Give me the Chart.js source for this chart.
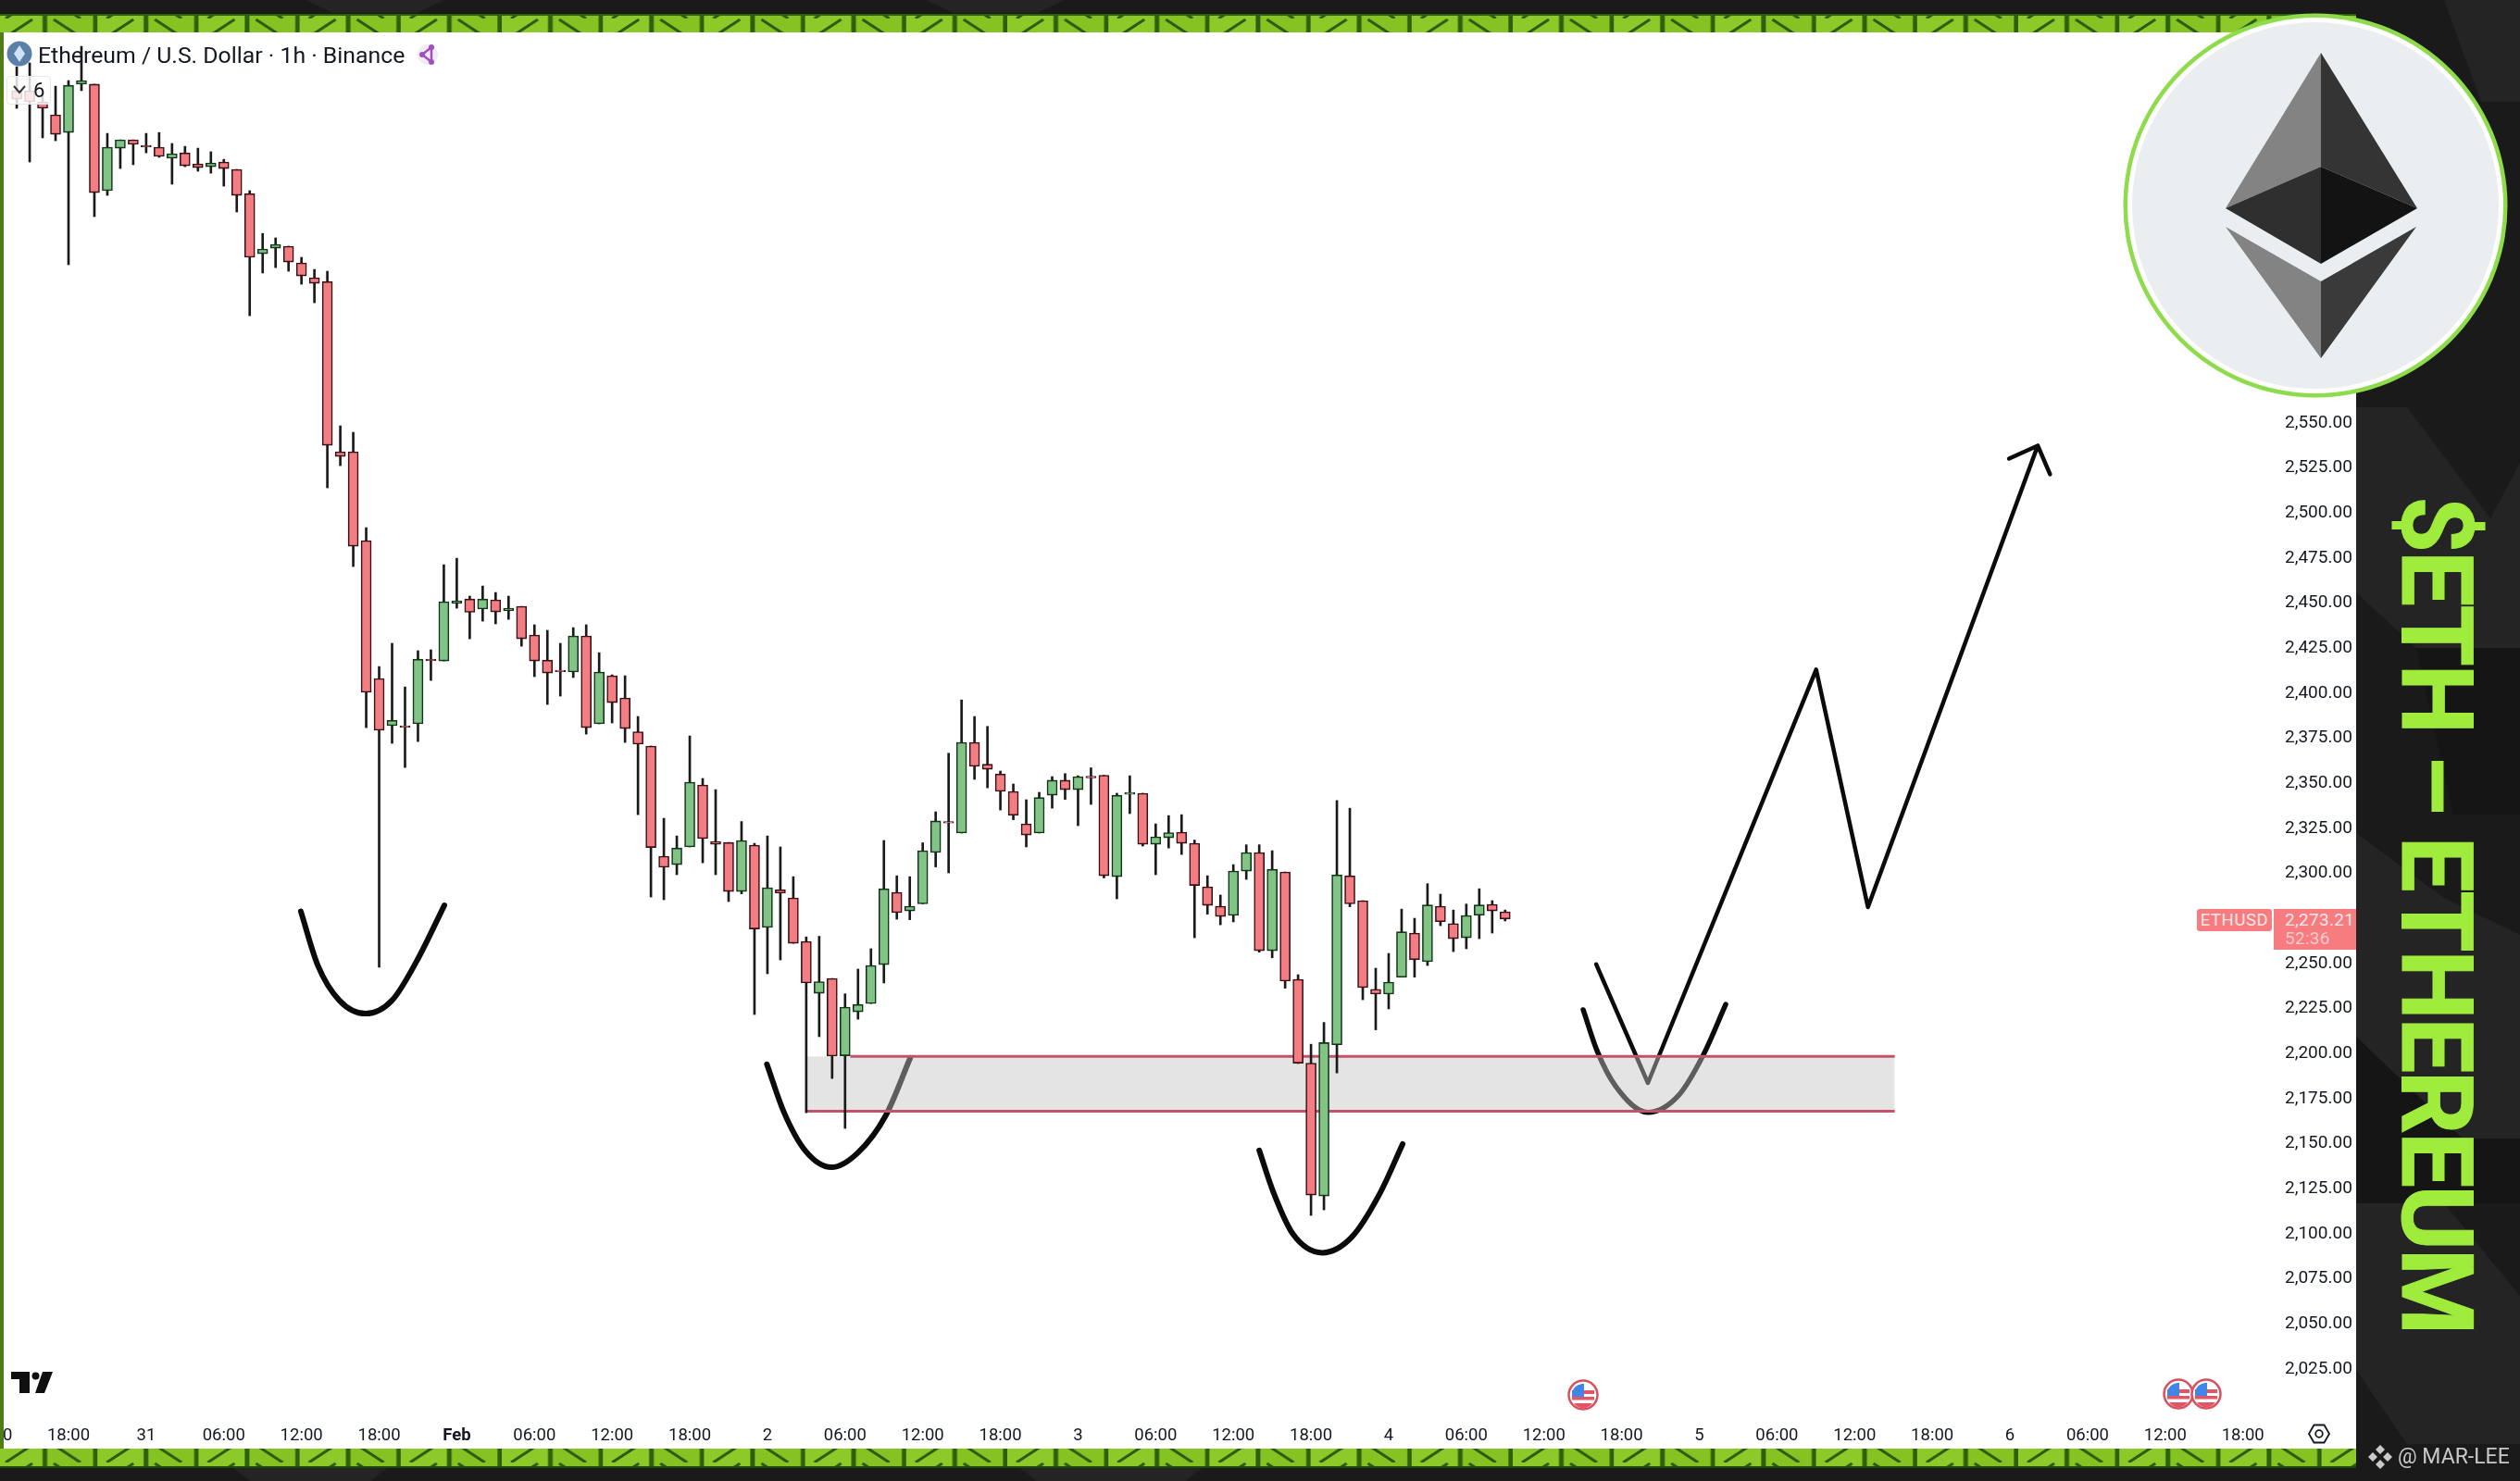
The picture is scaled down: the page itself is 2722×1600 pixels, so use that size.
<!DOCTYPE html>
<html>
<head>
<meta charset="utf-8">
<title>ETHUSD 1h</title>
<script src="https://cdn.jsdelivr.net/npm/chart.js@4/dist/chart.umd.js"></script>
<style>
  html, body { margin: 0; padding: 0; width: 2722px; height: 1600px; overflow: hidden; background: #1a1a1a; }
  body { position: relative; font-family: Roboto, sans-serif; }
  .abs { position: absolute; white-space: nowrap; }
  #bg { position: absolute; left: 0; top: 0; }
  #pane { position: absolute; left: 4px; top: 35px; width: 2541px; height: 1530px; background: #fff; }
  #chartWrap { position: absolute; left: 4px; top: 35px; width: 2541px; height: 1530px; }
  #title { left: 41px; top: 45px; font-size: 24.8px; line-height: 30px; color: #131722; }
  #badge { left: 7px; top: 82px; width: 48px; height: 31px; box-sizing: border-box; border: 1px solid #e6e8ee; border-radius: 4px; background: rgba(255,255,255,.82); }
  #badgeNum { left: 36px; top: 85px; font-size: 22px; line-height: 26px; color: #131722; }
  #symLabel { left: 2373px; top: 982px; width: 81px; height: 24px; background: #f77c80; border-radius: 3px; color: #fde8e8; font-size: 18.5px; line-height: 25px; text-align: center; letter-spacing: .6px; }
  #priceLabel { left: 2456px; top: 982px; width: 89px; height: 44px; background: #f77c80; }
  #priceText { left: 2468px; top: 982px; font-size: 19px; line-height: 23px; color: #fde8e8; letter-spacing: .3px; }
  #priceTimer { left: 2468px; top: 1002px; font-size: 19px; line-height: 23px; color: #fbc9cb; letter-spacing: .3px; }
  #bigText { left: 2570px; top: 536px; writing-mode: vertical-rl; font-family: Roboto, sans-serif; font-weight: 700; font-size: 107px; line-height: 122px; color: #a0ec3d; letter-spacing: -2.5px; -webkit-text-stroke: 1px #a0ec3d; }
  #credit { left: 2590px; top: 1559px; font-size: 23px; line-height: 30px; color: #c9c9c9; }
</style>
</head>
<body>
<svg id="bg" width="2722" height="1600" xmlns="http://www.w3.org/2000/svg">
  <defs>
    <pattern id="strip" x="-4" y="0" width="109.2" height="20" patternUnits="userSpaceOnUse">
      <rect width="109.2" height="20" fill="#84c322"/>
      <rect x="0" width="54.6" height="20" fill="#8bca28"/>
      <rect x="50" width="5" height="20" fill="#2e5f0c"/>
      <rect x="104.6" width="5" height="20" fill="#2e5f0c"/>
      <path d="M10 20 L39 1" stroke="#2b5a10" stroke-width="3" fill="none"/>
      <path d="M62 1 L91 20" stroke="#2b5a10" stroke-width="3" fill="none"/>
    </pattern>
  </defs>
  <rect width="2722" height="1600" fill="#1a1a1a"/>
  <g fill="#242424">
    <polygon points="2545,440 2600,440 2690,560 2722,500 2722,700 2610,700 2545,640"/>
    <polygon points="2545,900 2640,970 2722,1010 2722,1230 2660,1230 2545,1120"/>
    <polygon points="2545,1300 2640,1300 2722,1400 2722,1560 2600,1560 2545,1480"/>
    <polygon points="2640,0 2722,0 2722,110 2680,110"/>
    <polygon points="330,0 480,0 450,14 360,14"/>
    <polygon points="1000,0 1150,0 1120,14 1030,14"/>
    <polygon points="250,1585 420,1585 400,1600 270,1600"/>
    <polygon points="1100,1585 1300,1585 1280,1600 1120,1600"/>
  </g>
  <g fill="#151515">
    <polygon points="2610,700 2722,700 2722,880 2650,880"/>
    <polygon points="2545,1120 2660,1230 2722,1230 2722,1300 2545,1300"/>
  </g>
  <rect x="0" y="15" width="2545" height="20" fill="url(#strip)"/>
  <rect x="0" y="15" width="2545" height="2" fill="#2e5f0c"/>
  <rect x="0" y="1565" width="2545" height="20" fill="url(#strip)"/>
  <rect x="0" y="1584" width="2545" height="2" fill="#22470a"/>
  <rect x="0" y="35" width="4" height="1530" fill="#4f7c14"/>
</svg>

<div id="pane"></div>
<div id="chartWrap"><canvas id="priceChart"></canvas></div>

<svg class="abs" style="left:0;top:0;pointer-events:none" width="2722" height="1600" xmlns="http://www.w3.org/2000/svg">
  <defs>
    <g id="usFlag">
      <circle r="15.5" fill="#fff" stroke="#d9505c" stroke-width="2.5"/>
      <path d="M-12 -5 H12 V-1 H-12 Z M-12 2 H12 V5.5 H-12 Z" fill="#e25563"/>
      <path d="M-10 9 H10 A 12 12 0 0 1 -10 9 Z" fill="#e25563"/>
      <path d="M-12 -2 A 12 12 0 0 1 -1 -12 H1 V2 H-12 Z" fill="#3f86e6"/>
    </g>
  </defs>
  <!-- pair icon -->
  <circle cx="21" cy="58" r="13.5" fill="#5b7fa6"/>
  <path d="M21 49 L27 58 L21 67 L15 58 Z" fill="#cfe3fb"/>
  <!-- share icon -->
  <circle cx="462" cy="59" r="11" fill="#f1ebf4"/>
  <path d="M466 51 L456 59 L466 67 Z" fill="none" stroke="#a24fc0" stroke-width="2.5"/>
  <circle cx="466" cy="51" r="3" fill="#a24fc0"/><circle cx="456" cy="59" r="3" fill="#a24fc0"/><circle cx="466" cy="67" r="3" fill="#a24fc0"/>
  <!-- TV logo -->
  <path d="M12 1482 H32 V1505 H21 V1490 H12 Z M57 1482 H46 L38 1505 H48 Z" fill="#0f0f0f"/>
  <circle cx="38.5" cy="1486.5" r="4" fill="#0f0f0f"/>
  <!-- event flags -->
  <use href="#usFlag" x="1710" y="1507"/>
  <use href="#usFlag" x="2353" y="1506"/>
  <use href="#usFlag" x="2383" y="1506"/>
  <!-- settings -->
  <path d="M2494 1549 L2499.5 1539.5 H2510.5 L2516 1549 L2510.5 1558.5 H2499.5 Z" fill="none" stroke="#131722" stroke-width="1.8"/>
  <circle cx="2505" cy="1549" r="3.8" fill="none" stroke="#131722" stroke-width="1.8"/>
  <!-- binance mark -->
  <g fill="#c9c9c9">
    <path d="M2571 1561 l5 5 -5 5 -5 -5 z M2571 1577 l5 5 -5 5 -5 -5 z M2563 1569 l5 5 -5 5 -5 -5 z M2579 1569 l5 5 -5 5 -5 -5 z"/>
  </g>
  <!-- coin logo -->
  <circle cx="2501" cy="222" r="207.5" fill="#8edb4b"/>
  <circle cx="2501" cy="222" r="203" fill="#fff"/>
  <circle cx="2501" cy="222" r="198" fill="#ebeef1"/>
  <polygon points="2507,57 2404,225 2507,180" fill="#838383"/>
  <polygon points="2507,57 2611,225 2507,180" fill="#343434"/>
  <polygon points="2507,180 2404,225 2507,285" fill="#2f2f2f"/>
  <polygon points="2507,180 2611,225 2507,285" fill="#131313"/>
  <polygon points="2404,245 2507,304 2507,387" fill="#838383"/>
  <polygon points="2610,245 2507,304 2507,387" fill="#3a3a3a"/>
</svg>

<div class="abs" id="badge"></div>
<svg class="abs" style="left:14px;top:92px" width="14" height="10"><path d="M1 1 L7 8 L13 1" fill="none" stroke="#333" stroke-width="2"/></svg>
<div class="abs" id="badgeNum">6</div>
<div class="abs" id="title">Ethereum / U.S. Dollar · 1h · Binance</div>
<div class="abs" id="symLabel">ETHUSD</div>
<div class="abs" id="priceLabel"></div>
<div class="abs" id="priceText">2,273.21</div>
<div class="abs" id="priceTimer">52:36</div>
<div class="abs" id="bigText">$ETH – ETHEREUM</div>
<div class="abs" id="credit">@ MAR-LEE</div>

<script>
// 1h candles, hour 0 = 30 Jan 18:00
const candleHours = [
  -4,-3,-2,-1,0,1,2,3,4,5,
  6,7,8,9,10,11,12,13,14,15,
  16,17,18,19,20,21,22,23,24,25,
  26,27,28,29,30,31,32,33,34,35,
  36,37,38,39,40,41,42,43,44,45,
  46,47,48,49,50,51,52,53,54,55,
  56,57,58,59,60,61,62,63,64,65,
  66,67,68,69,70,71,72,73,74,75,
  76,77,78,79,80,81,82,83,84,85,
  86,87,88,89,90,91,92,93,94,95,
  96,97,98,99,100,101,102,103,104,105,
  106,107,108,109,110,111
];
const candleOpen = [
  2732.9,2732.9,2726.7,2719.5,2709.7,2736.5,2736.5,2677.4,2701,2705.6,
  2702.5,2701.5,2695.4,2698.4,2692.3,2690.7,2693.3,2689.2,2675.8,2642.4,
  2645.5,2646.6,2637.3,2629.1,2627,2532.5,2532.5,2483.2,2406.7,2380.5,
  2380.5,2381.5,2417.4,2416.4,2448.3,2450.8,2445.2,2450.3,2444.2,2446.7,
  2430.8,2416.9,2411.3,2410.3,2430.3,2381.5,2408.2,2395.9,2377.1,2369.2,
  2308,2303.4,2313.2,2347.6,2316.2,2315.7,2288.5,2314.2,2268.5,2289.5,
  2284.9,2260.8,2232,2240.2,2197.3,2221.7,2226.3,2247.9,2288,2277.7,
  2281.6,2310.1,2327.3,2320.9,2371.2,2359.1,2353.7,2344,2326,2320.9,
  2341.9,2350.2,2345,2352.4,2353,2296.7,2342.4,2343,2314.7,2318.3,
  2321.4,2315.2,2291.1,2280.3,2275.2,2299.8,2310.1,2255.6,2299.3,2239.7,
  2193.2,2119.5,2203.4,2297.2,2283.4,2234.2,2231.5,2240.9,2265.4,2249.5,
  2280.3,2270.7,2262.8,2275.3,2281.3,2277.2
];
const candleHigh = [
  2746.2,2748.3,2731.8,2735.4,2738.5,2757.5,2736.5,2709.2,2705.6,2705.6,
  2709.2,2709.7,2703.6,2702,2701,2699,2694.8,2689.2,2677.4,2653.7,
  2651.2,2646.6,2640.4,2633.7,2632.7,2546.9,2543.3,2490.4,2413.3,2426.2,
  2402,2422.1,2422.6,2469.8,2473.4,2452.4,2458,2454.4,2452.4,2446.7,
  2436.5,2433.4,2426.2,2434.9,2436.5,2421,2408.7,2408.2,2385.6,2369.2,
  2329.1,2319.3,2374.8,2351.2,2345,2315.7,2327.3,2315.2,2319.3,2313.2,
  2296.7,2263.3,2263.6,2240.2,2231.7,2245.4,2256.7,2316.8,2297.2,2296.7,
  2315.5,2332.7,2365.2,2394.8,2385.6,2380.1,2355.3,2348.1,2339.4,2343.5,
  2352.2,2353.9,2352.7,2357.1,2353,2343,2352.7,2343,2326,2330.6,
  2331.1,2317,2297.2,2286.5,2303.4,2314.4,2314.4,2311.1,2299.3,2242.3,
  2203.7,2215.8,2339,2334.7,2283.4,2245.9,2254.1,2278.7,2273.6,2292.8,
  2287,2278.2,2281.5,2290,2283.4,2278.2
];
const candleLow = [
  2723.1,2693.3,2706.7,2705.1,2636.3,2732.9,2663,2674.8,2689.7,2691.8,
  2698.4,2695.9,2681,2690.7,2688.2,2687.1,2679.9,2665.6,2608,2631.7,
  2634.7,2632.7,2625.5,2615.2,2512.5,2524.8,2468.8,2379.4,2246.4,2370.7,
  2357.3,2371.7,2405.6,2416.4,2445.7,2428.7,2438.5,2437,2439.5,2424.6,
  2407.7,2392.3,2396.9,2407.2,2375.8,2381.5,2382,2371.2,2331.1,2285.4,
  2283.9,2297.8,2313.2,2304.4,2297.8,2282.9,2287.2,2220.2,2242.8,2250.5,
  2259.7,2165.7,2207.9,2184.7,2157,2217.6,2226.3,2237.7,2273.1,2272.8,
  2281.6,2302.1,2298.8,2320.9,2350.7,2346,2333.7,2328.3,2313.2,2320.9,
  2334.7,2339.6,2325,2336.8,2296,2284.4,2331.7,2313.7,2297.8,2312.6,
  2309,2262.8,2275.9,2270,2271.6,2295.2,2254.8,2251.7,2234.8,2193,
  2108.7,2111.8,2187.8,2280,2228.4,2211.7,2223.3,2240.9,2240.9,2247.4,
  2269.5,2255.1,2256.7,2262.3,2265.4,2272.1
];
const candleClose = [
  2728.2,2726.7,2723.1,2708.7,2735.9,2738.5,2676.3,2701.5,2705.6,2703.1,
  2701.6,2696.4,2697.9,2691.2,2690.2,2692.8,2689.7,2674.8,2640.4,2645,
  2647.6,2637.8,2630.1,2626,2536.1,2529.9,2480.1,2399,2377.9,2383.5,
  2379.6,2417.4,2416.5,2449.3,2449.8,2443.4,2450.8,2443.6,2445.7,2428.7,
  2416.4,2409.7,2410.4,2430.3,2379.4,2410.3,2393.3,2378.9,2370.2,2312.9,
  2301.9,2312.6,2349.1,2317.8,2314.7,2288.5,2316.8,2267.7,2290.6,2287.5,
  2259.7,2237.7,2238.4,2197.1,2224.3,2225.8,2247.4,2290,2276.7,2280.3,
  2311.1,2327.6,2326.4,2371.2,2357.9,2356.3,2344,2330.8,2319.8,2340.6,
  2350.2,2345,2352.2,2351.5,2297.2,2341.9,2343.5,2314.7,2318.8,2321.1,
  2315.2,2291.8,2280.8,2274.6,2299.8,2310.1,2255.6,2300.8,2238.7,2193.2,
  2120,2204.6,2297.7,2281.6,2235.1,2231.5,2238.2,2266.1,2250.6,2281,
  2271.7,2262.3,2275.2,2281,2277.7,2273.21
];

// price axis
const priceTicks = [2025,2050,2075,2100,2125,2150,2175,2200,2225,2250,2275,2300,2325,2350,2375,2400,2425,2450,2475,2500,2525,2550];
// time axis
const timeTickHours = [-4.7,0,6,12,18,24,30,36,42,48,54,60,66,72,78,84,90,96,102,108,114,120,126,132,138,144,150,156,162,168];
const timeTickLabels = ['0','18:00','31','06:00','12:00','18:00','Feb','06:00','12:00','18:00','2','06:00','12:00','18:00','3','06:00','12:00','18:00','4','06:00','12:00','18:00','5','06:00','12:00','18:00','6','06:00','12:00','18:00'];

// support zone
const zoneHours = [57,141.1];
const zoneTopPrice = 2197;
const zoneBottomPrice = 2166.5;
const zoneLineHours = [60.4,141.1];

// hand drawn marks
const curve1Hours = [17.95,19.26,20.93,22.96,24.99,26.9,29.04];
const curve1Prices = [2277.4,2247.5,2228,2220.7,2228,2249.8,2280.8];
const curve2Hours = [53.96,55.27,56.94,58.96,60.99,63.14,65.04];
const curve2Prices = [2192.6,2166.1,2144.5,2135.4,2143.5,2164.1,2196.2];
const curve3Hours = [92,93.06,94.61,96.88,99.14,101.29,103.08];
const curve3Prices = [2144.8,2122.2,2098.3,2088,2096.6,2120.5,2148.3];
const curve4Hours = [117.03,118.1,119.53,122.03,124.4,126.3,128.04];
const curve4Prices = [2222.8,2200.1,2180.5,2165.9,2175.3,2197.6,2225.8];
const pathHours = [118.03,122.03,135.03,139.03,152.15,149.93,152.15,153.1];
const pathPrices = [2248.1,2182.2,2411.6,2279.8,2535.9,2528.7,2535.9,2520];

const UP = '#82c486', DOWN = '#f27d83', UP_EDGE = '#12351a', DOWN_EDGE = '#3b1014';

function toPoints(xs, ys) { return xs.map((x, i) => ({ x: x, y: ys[i] })); }

function curve(xs, ys, width) {
  return { type: 'line', data: toPoints(xs, ys), borderColor: '#0b0b0b', borderWidth: width, cubicInterpolationMode: 'monotone',
           pointRadius: 0, borderCapStyle: 'round', borderJoinStyle: 'round', order: 10 };
}

// no auto padding, the plot area has to sit exactly where the price scale was read
function noPadding(s) { s.paddingLeft = s.paddingRight = s.paddingTop = s.paddingBottom = 0; }

const isUp = candleOpen.map((o, i) => candleClose[i] >= o);

new Chart(document.getElementById('priceChart').getContext('2d'), {
  data: {
    datasets: [
      curve(curve1Hours, curve1Prices, 6),
      curve(curve2Hours, curve2Prices, 6),
      curve(curve3Hours, curve3Prices, 6),
      curve(curve4Hours, curve4Prices, 5.5),
      Object.assign(curve(pathHours, pathPrices, 4.5), { cubicInterpolationMode: 'default', tension: 0 }),
      {
        // grey zone, sits over the drawings so they show through it
        type: 'line', data: toPoints(zoneHours, [zoneTopPrice, zoneTopPrice]),
        borderWidth: 0, pointRadius: 0, fill: { value: zoneBottomPrice },
        backgroundColor: 'rgba(195,195,197,.45)', order: 5
      },
      { type: 'line', data: toPoints(zoneLineHours, [zoneTopPrice, zoneTopPrice]), borderColor: '#c2536b', borderWidth: 3, pointRadius: 0, order: 4 },
      { type: 'line', data: toPoints(zoneHours, [zoneBottomPrice, zoneBottomPrice]), borderColor: '#c2536b', borderWidth: 3, pointRadius: 0, order: 4 },
      {
        type: 'bar', label: 'wicks', order: 2, grouped: false, barThickness: 2,
        data: candleHours.map((h, i) => ({ x: h, y: [candleLow[i], candleHigh[i]] })),
        backgroundColor: '#1a1a1a', borderWidth: 0
      },
      {
        type: 'bar', label: 'bodies', order: 1, grouped: false, barThickness: 11,
        data: candleHours.map((h, i) => ({ x: h, y: [candleOpen[i], candleClose[i]] })),
        backgroundColor: isUp.map(u => u ? UP : DOWN),
        borderColor: isUp.map(u => u ? UP_EDGE : DOWN_EDGE),
        borderWidth: 1.6, borderSkipped: false
      }
    ]
  },
  options: {
    responsive: true,
    maintainAspectRatio: false,
    animation: false,
    devicePixelRatio: 1,
    layout: { padding: 0 },
    plugins: { legend: { display: false }, title: { display: false }, tooltip: { enabled: false } },
    scales: {
      x: {
        type: 'linear', offset: false, min: -5.007, max: 170.67,
        grid: { display: false, drawTicks: false }, border: { display: false },
        afterBuildTicks: s => { s.ticks = timeTickHours.map(v => ({ value: v })); },
        afterFit: s => { s.height = 35; noPadding(s); },
        ticks: {
          autoSkip: false, maxRotation: 0, padding: 10, color: '#131722',
          font: c => ({ family: 'Roboto', size: 18.5, weight: c.tick && c.tick.value === 30 ? 'bold' : 'normal' }),
          callback: v => timeTickLabels[timeTickHours.indexOf(v)]
        }
      },
      y: {
        position: 'right', min: 1997.27, max: 2765.24,
        grid: { display: false, drawTicks: false }, border: { display: false },
        afterBuildTicks: s => { s.ticks = priceTicks.map(v => ({ value: v })); },
        afterFit: s => { s.width = 85; noPadding(s); },
        ticks: {
          autoSkip: false, padding: 8, labelOffset: 3, color: '#131722', font: { family: 'Roboto', size: 19 },
          callback: v => v.toLocaleString('en-US', { minimumFractionDigits: 2, maximumFractionDigits: 2 })
        }
      }
    }
  }
});
</script>
</body>
</html>
